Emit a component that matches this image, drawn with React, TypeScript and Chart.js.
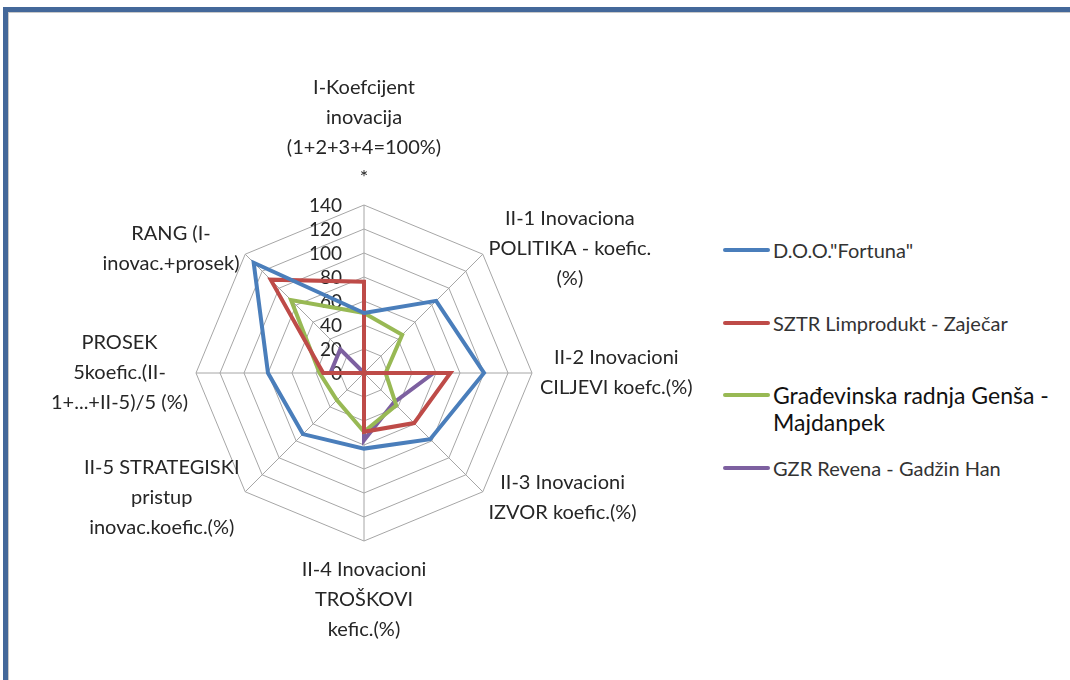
import React, { useEffect, useRef } from "react";
import { Chart, registerables } from "chart.js";

Chart.register(...registerables);

// ---- data ----
const categories: string[][] = [
  ["I-Koefcijent", "inovacija", "(1+2+3+4=100%)", "*"],
  ["II-1 Inovaciona", "POLITIKA - koefic.", "(%)"],
  ["II-2 Inovacioni", "CILJEVI koefc.(%)"],
  ["II-3 Inovacioni", "IZVOR koefic.(%)"],
  ["II-4 Inovacioni", "TROŠKOVI", "kefic.(%)"],
  ["II-5 STRATEGISKI", "pristup", "inovac.koefic.(%)"],
  ["PROSEK", "5koefic.(II-", "1+...+II-5)/5 (%)"],
  ["RANG (I-", "inovac.+prosek)"],
];

const seriesNames: string[][] = [
  ['D.O.O."Fortuna"'],
  ["SZTR Limprodukt - Zaječar"],
  ["Građevinska radnja Genša -", "Majdanpek"],
  ["GZR Revena - Gadžin Han"],
];

const fortuna = [50, 85, 100, 78, 63, 72, 80, 130];
const limprodukt = [76, 0, 72, 59, 49, 0, 34, 110];
const gensa = [50, 45, 18, 38, 49, 32, 37, 86];
const revena = [0, 0, 58, 35, 56, 0, 28, 28];

const tickMin = 0;
const tickMax = 140;
const tickStep = 20;

const seriesColors = ["#4A7EBB", "#BE4B48", "#98B954", "#7D60A0"];

// ---- styling ----
const FONT = "Lato, 'Open Sans', sans-serif";
const TEXT = "#262626";

const labelPlugin = {
  id: "excelLabels",
  beforeDatasetsDraw(chart: any) {
    const s = chart.scales.r;
    const ctx = chart.ctx as CanvasRenderingContext2D;
    ctx.save();
    ctx.font = `19px ${FONT}`;
    ctx.fillStyle = TEXT;
    ctx.textAlign = "right";
    ctx.textBaseline = "middle";
    s.ticks.forEach((t: any) => {
      const d = s.getDistanceFromCenterForValue(t.value);
      ctx.fillText(String(t.value), s.xCenter - 22, s.yCenter - d + 1);
    });
    ctx.restore();
  },
  afterDraw(chart: any) {
    const s = chart.scales.r;
    const ctx = chart.ctx as CanvasRenderingContext2D;
    ctx.save();
    ctx.font = `20px ${FONT}`;
    ctx.fillStyle = TEXT;
    ctx.textAlign = "center";
    ctx.textBaseline = "middle";
    const L = 30;
    categories.forEach((lines, i) => {
      const ang = (s.getIndexAngle(i) * 180) / Math.PI;
      const isTop = ang < 1 || ang > 359;
      const isBottom = Math.abs(ang - 180) < 1;
      const gap = isTop ? 12 : isBottom ? 14 : 8;
      const p = s.getPointPosition(i, s.drawingArea + gap);
      const w = Math.max(...lines.map((l) => ctx.measureText(l).width));
      const h = lines.length * L;
      let cx: number;
      let top: number;
      if (isTop) {
        cx = p.x;
        top = p.y - h;
      } else if (isBottom) {
        cx = p.x;
        top = p.y;
      } else if (ang < 180) {
        cx = p.x + w / 2;
        top = p.y - h / 2;
      } else {
        cx = p.x - w / 2;
        top = p.y - h / 2;
      }
      lines.forEach((l, j) => ctx.fillText(l, cx, top + L / 2 + j * L));
    });
    ctx.restore();
  },
};

export default function App() {
  const canvasRef = useRef<HTMLCanvasElement | null>(null);

  useEffect(() => {
    let chart: Chart | null = null;
    let cancelled = false;
    const make = () => {
      if (cancelled || !canvasRef.current) return;
      const data = [fortuna, limprodukt, gensa, revena];
      chart = new Chart(canvasRef.current, {
        type: "radar",
        data: {
          labels: categories.map((c) => c.join(" ")),
          datasets: data.map((vals, i) => ({
            label: seriesNames[i].join(" "),
            data: vals,
            borderColor: seriesColors[i],
            backgroundColor: seriesColors[i],
            borderWidth: 4,
            pointRadius: 0,
            pointHoverRadius: 0,
            fill: false,
            tension: 0,
            borderJoinStyle: "miter" as const,
          })),
        },
        options: {
          responsive: false,
          animation: false,
          layout: { padding: { left: 196, right: 168, top: 205, bottom: 139 } },
          plugins: { legend: { display: false }, tooltip: { enabled: false } },
          scales: {
            r: {
              min: tickMin,
              max: tickMax,
              ticks: { stepSize: tickStep, display: false },
              pointLabels: { display: false },
              grid: { color: "#A6A6A6", lineWidth: 1 },
              angleLines: { color: "#A6A6A6", lineWidth: 1 },
            },
          },
        },
        plugins: [labelPlugin],
      });
    };
    const fonts = (document as any).fonts;
    if (fonts && fonts.load) {
      Promise.all([fonts.load(`20px Lato`), fonts.load(`19px Lato`)]).then(make, make);
    } else {
      make();
    }
    return () => {
      cancelled = true;
      if (chart) chart.destroy();
    };
  }, []);

  const legendY = [250, 323, 395, 468];

  return (
    <div
      style={{
        position: "fixed",
        left: 0,
        top: 0,
        width: 1070,
        height: 680,
        background: "#fff",
        overflow: "hidden",
        fontFamily: FONT,
      }}
    >
      {/* frame */}
      <div style={{ position: "absolute", left: 3, top: 7, right: 0, height: 5, background: "#44689A" }} />
      <div style={{ position: "absolute", left: 3, top: 7, width: 5, bottom: 0, background: "#44689A" }} />
      <div style={{ position: "absolute", left: 8, top: 12, right: 0, height: 1, background: "#C9C9C9" }} />
      <div style={{ position: "absolute", left: 8, top: 12, width: 1, bottom: 0, background: "#C9C9C9" }} />

      <canvas
        ref={canvasRef}
        width={700}
        height={680}
        style={{ position: "absolute", left: 0, top: 0, width: 700, height: 680 }}
      />

      {/* legend */}
      {seriesNames.map((lines, i) => {
        const big = lines.length > 1;
        const lh = big ? 27 : 30;
        return (
          <React.Fragment key={i}>
            <div
              style={{
                position: "absolute",
                left: 723,
                top: legendY[i] - 2,
                width: 47,
                height: 4,
                borderRadius: 2,
                background: seriesColors[i],
              }}
            />
            <div
              style={{
                position: "absolute",
                left: 773,
                top: legendY[i] - lh / 2,
                fontSize: big ? 23 : 20,
                lineHeight: `${lh}px`,
                color: big ? "#111" : "#333",
                whiteSpace: "nowrap",
              }}
            >
              {lines.map((l, j) => (
                <div key={j}>{l}</div>
              ))}
            </div>
          </React.Fragment>
        );
      })}
    </div>
  );
}
